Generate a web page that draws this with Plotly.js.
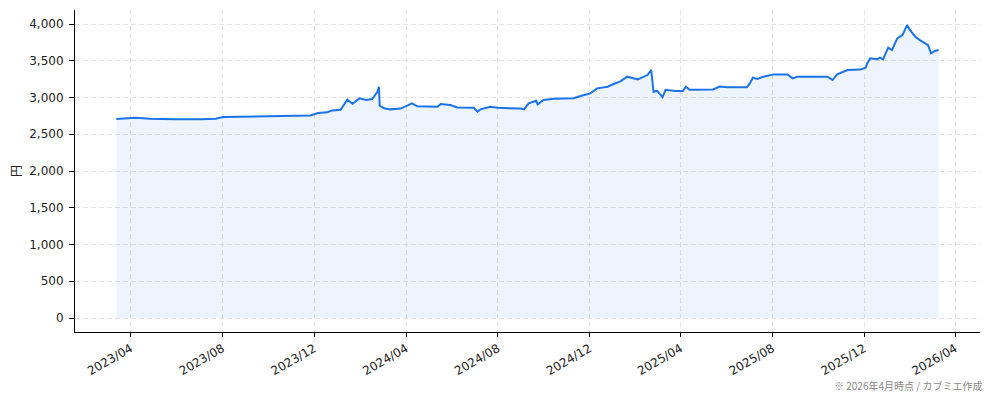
<!DOCTYPE html>
<html>
<head>
<meta charset="utf-8">
<script src="https://cdn.plot.ly/plotly-3.0.1.min.js"></script>
<style>html,body{margin:0;padding:0;background:#fff;}#chart{width:994px;height:401px;}</style>
</head>
<body>
<div id="chart"></div>
<script>
const dates = [
'2023-03-13','2023-03-25','2023-04-07','2023-04-27','2023-05-30','2023-07-03','2023-07-23','2023-08-02','2023-08-29','2023-10-04',
'2023-11-03','2023-11-26','2023-12-06','2023-12-18','2023-12-25','2024-01-05','2024-01-14','2024-01-21','2024-01-30','2024-02-08',
'2024-02-16','2024-02-23','2024-02-25','2024-02-26','2024-03-03','2024-03-11','2024-03-25','2024-04-09','2024-04-16','2024-05-13',
'2024-05-17','2024-05-30','2024-06-08','2024-06-30','2024-07-05','2024-07-09','2024-07-22','2024-08-01','2024-09-01','2024-09-05',
'2024-09-11','2024-09-21','2024-09-23','2024-10-01','2024-10-14','2024-11-10','2024-11-19','2024-12-02','2024-12-11','2024-12-25',
'2025-01-02','2025-01-11','2025-01-20','2025-02-03','2025-02-16','2025-02-21','2025-02-24','2025-03-01','2025-03-08','2025-03-12',
'2025-03-25','2025-04-04','2025-04-08','2025-04-13','2025-05-14','2025-05-23','2025-06-02','2025-06-28','2025-07-02','2025-07-06',
'2025-07-12','2025-07-20','2025-08-03','2025-08-21','2025-08-28','2025-09-03','2025-10-13','2025-10-20','2025-10-26','2025-11-09',
'2025-11-26','2025-12-03','2025-12-05','2025-12-09','2025-12-18','2025-12-22','2025-12-26','2026-01-02','2026-01-07','2026-01-14',
'2026-01-21','2026-01-27','2026-01-31','2026-02-07','2026-02-13','2026-02-20','2026-02-24','2026-02-28','2026-03-05','2026-03-10'
];
const prices = [
2707,2720,2725,2712,2703,2705,2712,2735,2738,2742,
2745,2757,2790,2800,2825,2834,2970,2916,2989,2966,
2980,3079,3147,2890,2853,2839,2850,2921,2880,2875,
2912,2898,2866,2860,2807,2839,2875,2860,2850,2839,
2921,2957,2907,2966,2985,2990,3020,3057,3125,3147,
3184,3220,3284,3247,3306,3374,3079,3090,3005,3105,
3090,3088,3147,3105,3111,3150,3139,3139,3193,3270,
3252,3284,3315,3315,3261,3284,3284,3238,3315,3374,
3380,3406,3465,3533,3520,3542,3520,3678,3646,3805,
3850,3986,3918,3828,3782,3737,3714,3601,3633,3646
];
const yTickVals = [0,500,1000,1500,2000,2500,3000,3500,4000];
const yAxisTitle = '円';
const noteText = '※ 2026年4月時点 / カブミエ作成';

const trace = {
  x: dates, y: prices, type: 'scatter', mode: 'lines',
  line: {color: '#1a73e8', width: 2},
  fill: 'tozeroy', fillcolor: 'rgba(26,115,232,0.08)',
  hoverinfo: 'skip'
};
const tickFont = {family: 'DejaVu Sans, "Noto Sans CJK JP", sans-serif', size: 12, color: '#222'};
const gridCol = '#e4e4e4';
const layout = {
  width: 994, height: 401,
  margin: {l: 75, r: 14, t: 10, b: 69},
  paper_bgcolor: '#fff', plot_bgcolor: '#fff',
  showlegend: false,
  xaxis: {
    type: 'date', range: ['2023-01-17', '2026-05-04'],
    tick0: '2023-04-01', dtick: 'M4', tickformat: '%Y/%m',
    tickangle: -30, tickfont: tickFont,
    ticks: 'outside', ticklen: 4, tickcolor: '#000', tickwidth: 1,
    showline: true, linecolor: '#000', linewidth: 1, mirror: false,
    showgrid: true, gridcolor: gridCol, griddash: '5px,3px', gridwidth: 1,
    zeroline: false
  },
  yaxis: {
    range: [-190, 4191], tickvals: yTickVals, tickformat: ',d',
    tickfont: tickFont, ticklabelstandoff: 3,
    ticks: 'outside', ticklen: 5, tickcolor: '#000', tickwidth: 1,
    showline: true, linecolor: '#000', linewidth: 1, mirror: false,
    showgrid: true, gridcolor: gridCol, griddash: '5px,3px', gridwidth: 1,
    zeroline: false,
    title: {text: yAxisTitle, font: {family: '"Noto Sans CJK JP", sans-serif', size: 12, color: '#222'}, standoff: 5}
  },
  annotations: [{
    text: noteText, xref: 'paper', yref: 'paper', x: 1.004, y: -0.165,
    xanchor: 'right', yanchor: 'middle', showarrow: false,
    font: {family: '"Noto Sans CJK JP", sans-serif', size: 10, color: '#888'}
  }]
};
Plotly.newPlot('chart', [trace], layout, {staticPlot: true, displayModeBar: false});
</script>
</body>
</html>
